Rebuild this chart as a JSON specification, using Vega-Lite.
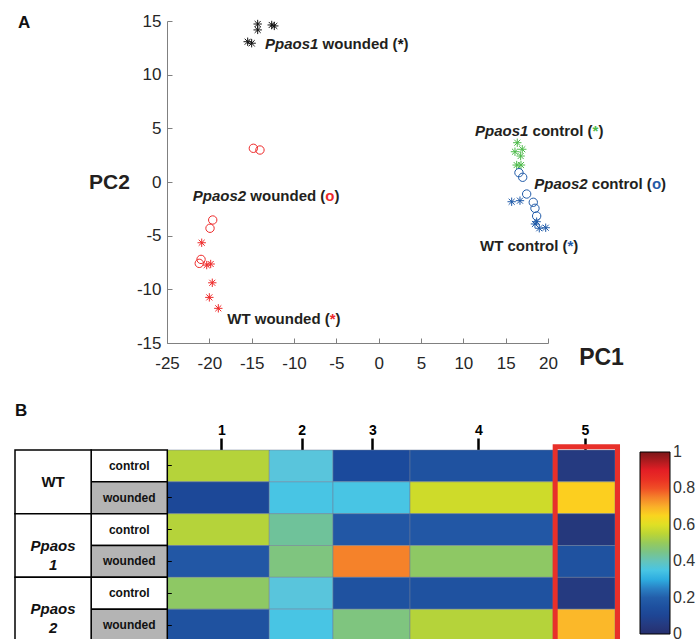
{
  "$schema": "https://vega.github.io/schema/vega-lite/v6.json",
  "width": 696,
  "height": 639,
  "autosize": "none",
  "padding": 0,
  "background": "white",
  "config": {"view": {"stroke": null}, "font": "Liberation Sans"},
  "datasets": {
    "pca": [
      {"genotype": "WT", "group": "WT wounded", "pc1": -20.9, "pc2": -5.66},
      {"genotype": "WT", "group": "WT wounded", "pc1": -20.31, "pc2": -7.74},
      {"genotype": "WT", "group": "WT wounded", "pc1": -19.84, "pc2": -7.64},
      {"genotype": "WT", "group": "WT wounded", "pc1": -19.65, "pc2": -9.39},
      {"genotype": "WT", "group": "WT wounded", "pc1": -20.0, "pc2": -10.75},
      {"genotype": "WT", "group": "WT wounded", "pc1": -18.94, "pc2": -11.77},
      {"genotype": "Ppaos2", "group": "Ppaos2 wounded", "pc1": -19.6, "pc2": -3.54},
      {"genotype": "Ppaos2", "group": "Ppaos2 wounded", "pc1": -19.92, "pc2": -4.31},
      {"genotype": "Ppaos2", "group": "Ppaos2 wounded", "pc1": -20.98, "pc2": -7.21},
      {"genotype": "Ppaos2", "group": "Ppaos2 wounded", "pc1": -21.19, "pc2": -7.58},
      {"genotype": "Ppaos2", "group": "Ppaos2 wounded", "pc1": -14.8, "pc2": 3.14},
      {"genotype": "Ppaos2", "group": "Ppaos2 wounded", "pc1": -14.02, "pc2": 2.98},
      {"genotype": "Ppaos1", "group": "Ppaos1 wounded", "pc1": -14.29, "pc2": 14.72},
      {"genotype": "Ppaos1", "group": "Ppaos1 wounded", "pc1": -14.29, "pc2": 14.17},
      {"genotype": "Ppaos1", "group": "Ppaos1 wounded", "pc1": -12.63, "pc2": 14.63},
      {"genotype": "Ppaos1", "group": "Ppaos1 wounded", "pc1": -12.33, "pc2": 14.54},
      {"genotype": "Ppaos1", "group": "Ppaos1 wounded", "pc1": -15.47, "pc2": 13.07},
      {"genotype": "Ppaos1", "group": "Ppaos1 wounded", "pc1": -15.0, "pc2": 12.93},
      {"genotype": "Ppaos1", "group": "Ppaos1 control", "pc1": 16.37, "pc2": 3.66},
      {"genotype": "Ppaos1", "group": "Ppaos1 control", "pc1": 16.1, "pc2": 2.82},
      {"genotype": "Ppaos1", "group": "Ppaos1 control", "pc1": 16.96, "pc2": 3.05},
      {"genotype": "Ppaos1", "group": "Ppaos1 control", "pc1": 16.77, "pc2": 2.42},
      {"genotype": "Ppaos1", "group": "Ppaos1 control", "pc1": 16.3, "pc2": 1.58},
      {"genotype": "Ppaos1", "group": "Ppaos1 control", "pc1": 16.81, "pc2": 1.58},
      {"genotype": "Ppaos2", "group": "Ppaos2 control", "pc1": 16.57, "pc2": 0.87},
      {"genotype": "Ppaos2", "group": "Ppaos2 control", "pc1": 17.01, "pc2": 0.44},
      {"genotype": "Ppaos2", "group": "Ppaos2 control", "pc1": 17.48, "pc2": -1.12},
      {"genotype": "Ppaos2", "group": "Ppaos2 control", "pc1": 18.26, "pc2": -1.89},
      {"genotype": "Ppaos2", "group": "Ppaos2 control", "pc1": 18.46, "pc2": -2.45},
      {"genotype": "Ppaos2", "group": "Ppaos2 control", "pc1": 18.66, "pc2": -3.17},
      {"genotype": "WT", "group": "WT control", "pc1": 15.71, "pc2": -1.84},
      {"genotype": "WT", "group": "WT control", "pc1": 16.69, "pc2": -1.74},
      {"genotype": "WT", "group": "WT control", "pc1": 18.46, "pc2": -3.91},
      {"genotype": "WT", "group": "WT control", "pc1": 18.66, "pc2": -3.7},
      {"genotype": "WT", "group": "WT control", "pc1": 18.97, "pc2": -4.31},
      {"genotype": "WT", "group": "WT control", "pc1": 19.73, "pc2": -4.26}
    ],
    "labels": [
      {"group": "Ppaos1 wounded", "part": "gene", "text": "Ppaos1", "x": -13.43, "y": 12.9},
      {"group": "Ppaos1 wounded", "part": "rest", "text": "wounded (", "x": -6.62, "y": 12.9},
      {"group": "Ppaos1 wounded", "part": "sym", "text": "*", "x": 2.24, "y": 12.9},
      {"group": "Ppaos1 wounded", "part": "rest", "text": ")", "x": 2.92, "y": 12.9},
      {"group": "Ppaos2 wounded", "part": "gene", "text": "Ppaos2", "x": -21.96, "y": -1.26},
      {"group": "Ppaos2 wounded", "part": "rest", "text": "wounded (", "x": -15.16, "y": -1.26},
      {"group": "Ppaos2 wounded", "part": "sym", "text": "o", "x": -6.3, "y": -1.26},
      {"group": "Ppaos2 wounded", "part": "rest", "text": ")", "x": -5.22, "y": -1.26},
      {"group": "WT wounded", "part": "rest", "text": "WT wounded (", "x": -17.88, "y": -12.76},
      {"group": "WT wounded", "part": "sym", "text": "*", "x": -5.77, "y": -12.76},
      {"group": "WT wounded", "part": "rest", "text": ")", "x": -5.09, "y": -12.76},
      {"group": "Ppaos1 control", "part": "gene", "text": "Ppaos1", "x": 11.38, "y": 4.75},
      {"group": "Ppaos1 control", "part": "rest", "text": "control (", "x": 18.18, "y": 4.75},
      {"group": "Ppaos1 control", "part": "sym", "text": "*", "x": 25.27, "y": 4.75},
      {"group": "Ppaos1 control", "part": "rest", "text": ")", "x": 25.95, "y": 4.75},
      {"group": "Ppaos2 control", "part": "gene", "text": "Ppaos2", "x": 18.38, "y": -0.14},
      {"group": "Ppaos2 control", "part": "rest", "text": "control (", "x": 25.18, "y": -0.14},
      {"group": "Ppaos2 control", "part": "sym", "text": "o", "x": 32.27, "y": -0.14},
      {"group": "Ppaos2 control", "part": "rest", "text": ")", "x": 33.36, "y": -0.14},
      {"group": "WT control", "part": "rest", "text": "WT control (", "x": 11.97, "y": -5.96},
      {"group": "WT control", "part": "sym", "text": "*", "x": 22.3, "y": -5.96},
      {"group": "WT control", "part": "rest", "text": ")", "x": 22.99, "y": -5.96}
    ],
    "heat": [
      {"sample": "WT control", "cluster": 1, "xStart": 0, "xEnd": 22.78, "value": 0.54},
      {"sample": "WT control", "cluster": 2, "xStart": 22.78, "xEnd": 37.01, "value": 0.37},
      {"sample": "WT control", "cluster": 3, "xStart": 37.01, "xEnd": 54.21, "value": 0.12},
      {"sample": "WT control", "cluster": 4, "xStart": 54.21, "xEnd": 86.22, "value": 0.16},
      {"sample": "WT control", "cluster": 5, "xStart": 86.22, "xEnd": 100, "value": 0.05},
      {"sample": "WT wounded", "cluster": 1, "xStart": 0, "xEnd": 22.78, "value": 0.11},
      {"sample": "WT wounded", "cluster": 2, "xStart": 22.78, "xEnd": 37.01, "value": 0.35},
      {"sample": "WT wounded", "cluster": 3, "xStart": 37.01, "xEnd": 54.21, "value": 0.35},
      {"sample": "WT wounded", "cluster": 4, "xStart": 54.21, "xEnd": 86.22, "value": 0.58},
      {"sample": "WT wounded", "cluster": 5, "xStart": 86.22, "xEnd": 100, "value": 0.66},
      {"sample": "Ppaos1 control", "cluster": 1, "xStart": 0, "xEnd": 22.78, "value": 0.54},
      {"sample": "Ppaos1 control", "cluster": 2, "xStart": 22.78, "xEnd": 37.01, "value": 0.43},
      {"sample": "Ppaos1 control", "cluster": 3, "xStart": 37.01, "xEnd": 54.21, "value": 0.19},
      {"sample": "Ppaos1 control", "cluster": 4, "xStart": 54.21, "xEnd": 86.22, "value": 0.19},
      {"sample": "Ppaos1 control", "cluster": 5, "xStart": 86.22, "xEnd": 100, "value": 0.04},
      {"sample": "Ppaos1 wounded", "cluster": 1, "xStart": 0, "xEnd": 22.78, "value": 0.19},
      {"sample": "Ppaos1 wounded", "cluster": 2, "xStart": 22.78, "xEnd": 37.01, "value": 0.46},
      {"sample": "Ppaos1 wounded", "cluster": 3, "xStart": 37.01, "xEnd": 54.21, "value": 0.75},
      {"sample": "Ppaos1 wounded", "cluster": 4, "xStart": 54.21, "xEnd": 86.22, "value": 0.49},
      {"sample": "Ppaos1 wounded", "cluster": 5, "xStart": 86.22, "xEnd": 100, "value": 0.16},
      {"sample": "Ppaos2 control", "cluster": 1, "xStart": 0, "xEnd": 22.78, "value": 0.49},
      {"sample": "Ppaos2 control", "cluster": 2, "xStart": 22.78, "xEnd": 37.01, "value": 0.37},
      {"sample": "Ppaos2 control", "cluster": 3, "xStart": 37.01, "xEnd": 54.21, "value": 0.16},
      {"sample": "Ppaos2 control", "cluster": 4, "xStart": 54.21, "xEnd": 86.22, "value": 0.16},
      {"sample": "Ppaos2 control", "cluster": 5, "xStart": 86.22, "xEnd": 100, "value": 0.05},
      {"sample": "Ppaos2 wounded", "cluster": 1, "xStart": 0, "xEnd": 22.78, "value": 0.16},
      {"sample": "Ppaos2 wounded", "cluster": 2, "xStart": 22.78, "xEnd": 37.01, "value": 0.35},
      {"sample": "Ppaos2 wounded", "cluster": 3, "xStart": 37.01, "xEnd": 54.21, "value": 0.46},
      {"sample": "Ppaos2 wounded", "cluster": 4, "xStart": 54.21, "xEnd": 86.22, "value": 0.54},
      {"sample": "Ppaos2 wounded", "cluster": 5, "xStart": 86.22, "xEnd": 100, "value": 0.69}
    ],
    "groups": [
      {"genotype": "WT", "label": "WT"},
      {"genotype": "Ppaos1", "label": ["Ppaos", "1"]},
      {"genotype": "Ppaos2", "label": ["Ppaos", "2"]}
    ],
    "conditions": [
      {"sample": "WT control", "treatment": "control"},
      {"sample": "WT wounded", "treatment": "wounded"},
      {"sample": "Ppaos1 control", "treatment": "control"},
      {"sample": "Ppaos1 wounded", "treatment": "wounded"},
      {"sample": "Ppaos2 control", "treatment": "control"},
      {"sample": "Ppaos2 wounded", "treatment": "wounded"}
    ],
    "box": [{"cluster": 5, "x0": 86.64, "x1": 100.56, "r0": -0.1, "r1": 6.6}],
    "panels": [
      {"panel": "A", "x": -42.6, "y": 14.77},
      {"panel": "B", "x": -34.0, "y": -1.23}
    ]
  },
  "layer": [
    {
      "data": {"name": "pca"},
      "mark": {"type": "point", "filled": false, "strokeWidth": 1, "size": 70, "opacity": 1},
      "encoding": {
        "x": {"field": "pc1", "type": "quantitative",
          "scale": {"domain": [-25, 20], "range": [167, 548], "zero": false, "nice": false},
          "axis": {"orient": "bottom", "offset": -296, "values": [-25, -20, -15, -10, -5, 0, 5, 10, 15, 20],
            "labelExpr": "'' + datum.value",
            "tickSize": -5, "tickColor": "#808080", "domainColor": "#808080", "grid": false,
            "labelFontSize": 17, "labelColor": "#262626", "labelPadding": 17, "labelFlush": false, "labelOverlap": false,
            "title": "PC1", "titleFontSize": 23, "titleFontWeight": "bold", "titleColor": "#231f20",
            "titleX": 601, "titleY": 14, "titleAlign": "center", "titleBaseline": "middle"}},
        "y": {"field": "pc2", "type": "quantitative",
          "scale": {"domain": [-15, 15], "range": [343, 21], "zero": false, "nice": false},
          "axis": {"orient": "left", "offset": -167, "values": [-15, -10, -5, 0, 5, 10, 15],
            "labelExpr": "'' + datum.value",
            "tickSize": -5, "tickColor": "#808080", "domainColor": "#808080", "grid": false,
            "labelFontSize": 17, "labelColor": "#262626", "labelPadding": 11, "labelFlush": false, "labelOverlap": false,
            "title": "PC2", "titleFontSize": 21, "titleFontWeight": "bold", "titleColor": "#231f20", "titleAngle": 0,
            "titleX": -58, "titleY": 182, "titleAlign": "center", "titleBaseline": "middle"}},
        "color": {"field": "group", "type": "nominal", "legend": null,
          "scale": {"domain": ["WT wounded", "Ppaos1 wounded", "Ppaos2 wounded", "WT control", "Ppaos1 control", "Ppaos2 control"],
            "range": ["#ee2a2a", "#111111", "#ee2a2a", "#1f5aa8", "#4dba4a", "#1f5aa8"]}},
        "shape": {"field": "genotype", "type": "nominal", "legend": null,
          "scale": {"domain": ["WT", "Ppaos1", "Ppaos2"],
            "range": ["M-1,0L1,0M0,-1L0,1M-0.72,-0.72L0.72,0.72M-0.72,0.72L0.72,-0.72", "M-1,0L1,0M0,-1L0,1M-0.72,-0.72L0.72,0.72M-0.72,0.72L0.72,-0.72", "circle"]}}
      }
    },
    {
      "data": {"name": "labels"},
      "transform": [{"filter": "datum.part === 'gene'"}],
      "mark": {"type": "text", "align": "left", "baseline": "middle", "fontSize": 15, "fontWeight": "bold", "fontStyle": "italic", "color": "#231f20"},
      "encoding": {
        "x": {"field": "x", "type": "quantitative", "scale": {"domain": [-25, 20], "range": [167, 548], "zero": false, "nice": false}, "axis": null},
        "y": {"field": "y", "type": "quantitative", "scale": {"domain": [-15, 15], "range": [343, 21], "zero": false, "nice": false}, "axis": null},
        "text": {"field": "text"}
      }
    },
    {
      "data": {"name": "labels"},
      "transform": [{"filter": "datum.part === 'rest'"}],
      "mark": {"type": "text", "align": "left", "baseline": "middle", "fontSize": 15, "fontWeight": "bold", "color": "#231f20"},
      "encoding": {
        "x": {"field": "x", "type": "quantitative", "scale": {"domain": [-25, 20], "range": [167, 548], "zero": false, "nice": false}, "axis": null},
        "y": {"field": "y", "type": "quantitative", "scale": {"domain": [-15, 15], "range": [343, 21], "zero": false, "nice": false}, "axis": null},
        "text": {"field": "text"}
      }
    },
    {
      "data": {"name": "labels"},
      "transform": [{"filter": "datum.part === 'sym'"}],
      "mark": {"type": "text", "align": "left", "baseline": "middle", "fontSize": 15, "fontWeight": "bold"},
      "encoding": {
        "x": {"field": "x", "type": "quantitative", "scale": {"domain": [-25, 20], "range": [167, 548], "zero": false, "nice": false}, "axis": null},
        "y": {"field": "y", "type": "quantitative", "scale": {"domain": [-15, 15], "range": [343, 21], "zero": false, "nice": false}, "axis": null},
        "text": {"field": "text"},
        "color": {"field": "group", "type": "nominal", "legend": null,
          "scale": {"domain": ["WT wounded", "Ppaos1 wounded", "Ppaos2 wounded", "WT control", "Ppaos1 control", "Ppaos2 control"],
            "range": ["#ee2a2a", "#111111", "#ee2a2a", "#1f5aa8", "#4dba4a", "#1f5aa8"]}}
      }
    },
    {
      "data": {"name": "heat"},
      "mark": {"type": "rect", "stroke": "#6f7f99", "strokeWidth": 0.5},
      "encoding": {
        "x": {"field": "xStart", "type": "quantitative", "scale": {"domain": [0, 100], "range": [167.3, 615], "zero": false, "nice": false},
          "axis": {"orient": "top", "offset": -450, "values": [12.1, 30, 45.8, 69.5, 93.3],
            "labelExpr": "datum.value < 20 ? '1' : datum.value < 40 ? '2' : datum.value < 60 ? '3' : datum.value < 80 ? '4' : '5'",
            "tickSize": 12, "tickWidth": 2.5, "tickColor": "black", "domainColor": "#333333", "domainWidth": 1.2, "grid": false,
            "labelFontSize": 14, "labelFontWeight": "bold", "labelColor": "black", "labelPadding": 1, "labelFlush": false, "labelOverlap": false,
            "title": null}},
        "x2": {"field": "xEnd"},
        "y": {"field": "sample", "type": "nominal", "sort": null,
          "scale": {"type": "band", "domain": ["WT control", "WT wounded", "Ppaos1 control", "Ppaos1 wounded", "Ppaos2 control", "Ppaos2 wounded"], "range": [450, 641], "paddingInner": 0, "paddingOuter": 0},
          "axis": {"orient": "left", "offset": -167.3, "labels": false, "domain": false, "tickSize": -4, "tickColor": "black", "tickWidth": 1, "title": null, "grid": false}},
        "color": {"field": "value", "type": "quantitative",
          "scale": {"domain": [0, 0.05, 0.12, 0.16, 0.19, 0.25, 0.31, 0.35, 0.37, 0.43, 0.46, 0.49, 0.54, 0.58, 0.62, 0.66, 0.69, 0.75, 0.82, 0.9, 1],
            "range": ["#262f6e", "#253a80", "#1b4a9c", "#1f52a0", "#2257a5", "#2a80c4", "#2fb6e6", "#48c5e4", "#59c5dc", "#6fc29a", "#7fc57f", "#8ec864", "#b5d33a", "#cedb2a", "#f0e51f", "#fccf1f", "#fbb829", "#f5822a", "#ee3b24", "#e31e25", "#7a1719"],
            "interpolate": "rgb"},
          "legend": {"orient": "none", "legendX": 640, "legendY": 452, "direction": "vertical", "title": null,
            "gradientLength": 182, "gradientThickness": 30, "gradientStrokeColor": "black", "gradientStrokeWidth": 1,
            "values": [0.0001, 0.2, 0.4, 0.6, 0.8, 0.9999], "format": ".1~f", "labelFontSize": 16, "labelColor": "#333333",
            "labelOffset": 3, "labelBaseline": "middle", "padding": 0, "labelOverlap": false}}
      }
    },
    {
      "data": {"name": "conditions"},
      "mark": {"type": "rect", "stroke": "black", "strokeWidth": 1.5},
      "encoding": {
        "x": {"datum": "treatment", "type": "nominal", "scale": {"type": "band", "domain": ["genotype", "treatment"], "range": [15, 167.3], "paddingInner": 0, "paddingOuter": 0}, "axis": null},
        "y": {"field": "sample", "type": "nominal", "sort": null,
          "scale": {"type": "band", "domain": ["WT control", "WT wounded", "Ppaos1 control", "Ppaos1 wounded", "Ppaos2 control", "Ppaos2 wounded"], "range": [450, 641], "paddingInner": 0, "paddingOuter": 0}, "axis": null},
        "fill": {"field": "treatment", "type": "nominal", "scale": {"domain": ["control", "wounded"], "range": ["#ffffff", "#b4b4b4"]}, "legend": null}
      }
    },
    {
      "data": {"name": "conditions"},
      "mark": {"type": "text", "fontSize": 12, "fontWeight": "bold", "color": "#111111", "baseline": "middle", "align": "center"},
      "encoding": {
        "x": {"datum": "treatment", "type": "nominal", "scale": {"type": "band", "domain": ["genotype", "treatment"], "range": [15, 167.3], "paddingInner": 0, "paddingOuter": 0}, "axis": null},
        "y": {"field": "sample", "type": "nominal", "sort": null,
          "scale": {"type": "band", "domain": ["WT control", "WT wounded", "Ppaos1 control", "Ppaos1 wounded", "Ppaos2 control", "Ppaos2 wounded"], "range": [450, 641], "paddingInner": 0, "paddingOuter": 0}, "axis": null},
        "text": {"field": "treatment"}
      }
    },
    {
      "data": {"name": "groups"},
      "mark": {"type": "rect", "stroke": "black", "strokeWidth": 1.5, "fill": "white"},
      "encoding": {
        "x": {"datum": "genotype", "type": "nominal", "scale": {"type": "band", "domain": ["genotype", "treatment"], "range": [15, 167.3], "paddingInner": 0, "paddingOuter": 0}, "axis": null},
        "y": {"field": "genotype", "type": "nominal", "sort": null,
          "scale": {"type": "band", "domain": ["WT", "Ppaos1", "Ppaos2"], "range": [450, 641], "paddingInner": 0, "paddingOuter": 0}, "axis": null}
      }
    },
    {
      "data": {"name": "groups"},
      "transform": [{"filter": "datum.genotype === 'WT'"}],
      "mark": {"type": "text", "fontSize": 15, "fontWeight": "bold", "color": "#111111", "baseline": "middle", "align": "center"},
      "encoding": {
        "x": {"datum": "genotype", "type": "nominal", "scale": {"type": "band", "domain": ["genotype", "treatment"], "range": [15, 167.3], "paddingInner": 0, "paddingOuter": 0}, "axis": null},
        "y": {"field": "genotype", "type": "nominal", "sort": null,
          "scale": {"type": "band", "domain": ["WT", "Ppaos1", "Ppaos2"], "range": [450, 641], "paddingInner": 0, "paddingOuter": 0}, "axis": null},
        "text": {"field": "label"}
      }
    },
    {
      "data": {"name": "groups"},
      "transform": [{"filter": "datum.genotype !== 'WT'"}],
      "mark": {"type": "text", "fontSize": 15, "fontWeight": "bold", "fontStyle": "italic", "color": "#111111", "baseline": "middle", "align": "center", "lineHeight": 19},
      "encoding": {
        "x": {"datum": "genotype", "type": "nominal", "scale": {"type": "band", "domain": ["genotype", "treatment"], "range": [15, 167.3], "paddingInner": 0, "paddingOuter": 0}, "axis": null},
        "y": {"field": "genotype", "type": "nominal", "sort": null,
          "scale": {"type": "band", "domain": ["WT", "Ppaos1", "Ppaos2"], "range": [450, 641], "paddingInner": 0, "paddingOuter": 0}, "axis": null},
        "text": {"field": "label"}
      }
    },
    {
      "data": {"name": "box"},
      "mark": {"type": "rect", "fill": null, "fillOpacity": 0, "stroke": "#e8302a", "strokeWidth": 5},
      "encoding": {
        "x": {"field": "x0", "type": "quantitative", "scale": {"domain": [0, 100], "range": [167.3, 615], "zero": false, "nice": false}, "axis": null},
        "x2": {"field": "x1"},
        "y": {"field": "r0", "type": "quantitative", "scale": {"domain": [0, 6], "range": [450, 641], "zero": false, "nice": false},
          "axis": {"orient": "right", "offset": -81, "values": [0.5, 1.5, 2.5, 3.5, 4.5, 5.5], "labels": false, "domain": false, "tickSize": -4, "tickColor": "black", "title": null, "grid": false}},
        "y2": {"field": "r1"}
      }
    },
    {
      "data": {"name": "panels"},
      "transform": [{"filter": "datum.panel === 'A'"}],
      "mark": {"type": "text", "align": "left", "baseline": "middle", "fontSize": 17, "fontWeight": "bold", "color": "#111111"},
      "encoding": {
        "x": {"field": "x", "type": "quantitative", "scale": {"domain": [-25, 20], "range": [167, 548], "zero": false, "nice": false}, "axis": null},
        "y": {"field": "y", "type": "quantitative", "scale": {"domain": [-15, 15], "range": [343, 21], "zero": false, "nice": false}, "axis": null},
        "text": {"field": "panel"}
      }
    },
    {
      "data": {"name": "panels"},
      "transform": [{"filter": "datum.panel === 'B'"}],
      "mark": {"type": "text", "align": "left", "baseline": "middle", "fontSize": 17, "fontWeight": "bold", "color": "#111111"},
      "encoding": {
        "x": {"field": "x", "type": "quantitative", "scale": {"domain": [0, 100], "range": [167.3, 615], "zero": false, "nice": false}, "axis": null},
        "y": {"field": "y", "type": "quantitative", "scale": {"domain": [0, 6], "range": [450, 641], "zero": false, "nice": false}, "axis": null},
        "text": {"field": "panel"}
      }
    }
  ],
  "resolve": {"scale": {"x": "independent", "y": "independent", "color": "independent", "shape": "independent", "fill": "independent"}}
}
